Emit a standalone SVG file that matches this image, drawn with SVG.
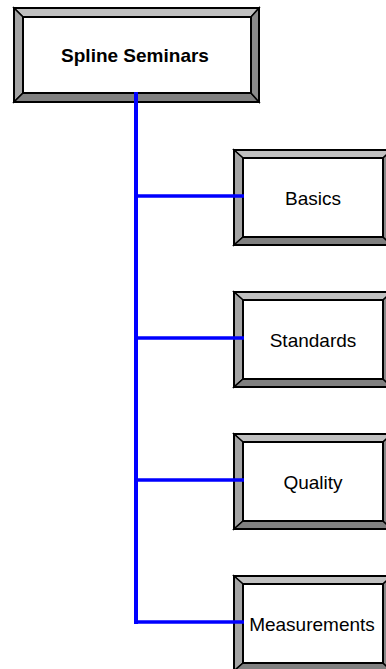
<svg xmlns="http://www.w3.org/2000/svg" width="386" height="669" viewBox="0 0 386 669">
<style>
.bt{fill:#c0c0c0;stroke:#000;stroke-width:1.5;stroke-linejoin:miter}
.bl{fill:#a4a4a4;stroke:#000;stroke-width:1.5}
.bb{fill:#808080;stroke:#000;stroke-width:1.5}
.br{fill:#8a8a8a;stroke:#000;stroke-width:1.5}
.face{fill:#fff;stroke:#000;stroke-width:2}
.outer{fill:none;stroke:#000;stroke-width:2}
.t{font-family:"Liberation Sans",Arial,sans-serif;font-size:19px;fill:#000;text-anchor:middle}
.tb{font-weight:bold}
.con{stroke:#0000ff;fill:none}
</style>
<rect width="386" height="669" fill="#fff"/>
<g id="root">
<polygon class="bt" points="14,8 259,8 251,17 23,17"/>
<polygon class="bl" points="14,8 23,17 23,93 14,102"/>
<polygon class="bb" points="14,102 23,93 251,93 259,102"/>
<polygon class="br" points="259,8 259,102 251,93 251,17"/>
<rect class="face" x="23" y="17" width="228" height="76"/>
<rect class="outer" x="14" y="8" width="245" height="94"/>
<text class="t tb" x="135" y="62">Spline Seminars</text>
</g>
<g id="basics">
<polygon class="bt" points="234,150 392,150 383,158 243,158"/>
<polygon class="bl" points="234,150 243,158 243,237 234,245"/>
<polygon class="bb" points="234,245 243,237 383,237 392,245"/>
<polygon class="br" points="392,150 392,245 383,237 383,158"/>
<rect class="face" x="243" y="158" width="140" height="79"/>
<rect class="outer" x="234" y="150" width="158" height="95"/>
<text class="t" x="313" y="205">Basics</text>
</g>
<g id="standards">
<polygon class="bt" points="234,292 392,292 383,300 243,300"/>
<polygon class="bl" points="234,292 243,300 243,379 234,387"/>
<polygon class="bb" points="234,387 243,379 383,379 392,387"/>
<polygon class="br" points="392,292 392,387 383,379 383,300"/>
<rect class="face" x="243" y="300" width="140" height="79"/>
<rect class="outer" x="234" y="292" width="158" height="95"/>
<text class="t" x="313" y="347">Standards</text>
</g>
<g id="quality">
<polygon class="bt" points="234,434 392,434 383,442 243,442"/>
<polygon class="bl" points="234,434 243,442 243,521 234,529"/>
<polygon class="bb" points="234,529 243,521 383,521 392,529"/>
<polygon class="br" points="392,434 392,529 383,521 383,442"/>
<rect class="face" x="243" y="442" width="140" height="79"/>
<rect class="outer" x="234" y="434" width="158" height="95"/>
<text class="t" x="313" y="489">Quality</text>
</g>
<g id="measurements">
<polygon class="bt" points="234,576 392,576 383,584 243,584"/>
<polygon class="bl" points="234,576 243,584 243,663 234,671"/>
<polygon class="bb" points="234,671 243,663 383,663 392,671"/>
<polygon class="br" points="392,576 392,671 383,663 383,584"/>
<rect class="face" x="243" y="584" width="140" height="79"/>
<rect class="outer" x="234" y="576" width="158" height="95"/>
<text class="t" x="312" y="631">Measurements</text>
</g>
<g id="connectors">
<line class="con" x1="136" y1="92" x2="136" y2="624" stroke-width="4"/>
<line class="con" x1="136" y1="196" x2="244" y2="196" stroke-width="3.5"/>
<line class="con" x1="136" y1="338" x2="244" y2="338" stroke-width="3.5"/>
<line class="con" x1="136" y1="480" x2="244" y2="480" stroke-width="3.5"/>
<line class="con" x1="134" y1="622" x2="244" y2="622" stroke-width="3.5"/>
</g>
</svg>
